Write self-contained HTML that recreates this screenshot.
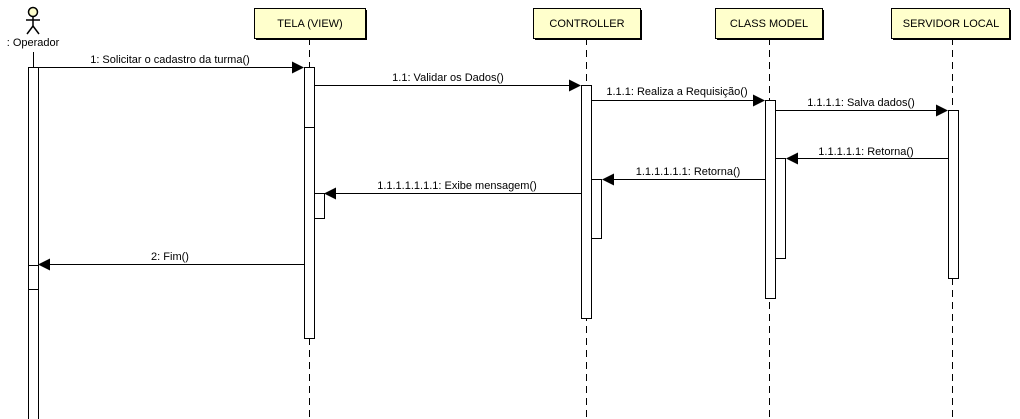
<!DOCTYPE html>
<html><head><style>body{margin:0;background:#fff}svg{display:block}text{font-family:"Liberation Sans",sans-serif;font-size:11px;fill:#000}</style></head><body>
<svg width="1020" height="419" viewBox="0 0 1020 419" xmlns="http://www.w3.org/2000/svg">
<g stroke="#000" stroke-width="1" fill="none" stroke-dasharray="7,5">
<line x1="309.5" y1="38" x2="309.5" y2="419"/>
<line x1="586.5" y1="38" x2="586.5" y2="419"/>
<line x1="769.5" y1="38" x2="769.5" y2="419"/>
<line x1="952.5" y1="38" x2="952.5" y2="419"/>
</g>
<line x1="33.5" y1="52" x2="33.5" y2="67" stroke="#000"/>
<!-- actor -->
<g stroke="#000" stroke-width="1.5" fill="none">
<circle cx="33" cy="12" r="4.5" fill="#ffffcc"/>
<line x1="33" y1="16.5" x2="33" y2="27"/>
<line x1="26" y1="20" x2="40" y2="20"/>
<line x1="33" y1="26" x2="27" y2="34"/>
<line x1="33" y1="26" x2="39" y2="34"/>
</g>
<text x="33" y="46" text-anchor="middle">: Operador</text>
<!-- heads -->
<g stroke="#000" fill="#ffffcc" stroke-width="1">
<rect x="254.5" y="8.5" width="111" height="30"/>
<rect x="533.5" y="8.5" width="107" height="30"/>
<rect x="715.5" y="8.5" width="107" height="30"/>
<rect x="891.5" y="8.5" width="118" height="30"/>
</g>
<g fill="#000" stroke="none">
<rect x="256" y="38" width="111" height="2"/><rect x="365" y="10" width="2" height="30"/>
<rect x="535" y="38" width="107" height="2"/><rect x="640" y="10" width="2" height="30"/>
<rect x="717" y="38" width="107" height="2"/><rect x="822" y="10" width="2" height="30"/>
<rect x="893" y="38" width="118" height="2"/><rect x="1009" y="10" width="2" height="30"/>
</g>
<text x="310" y="27" text-anchor="middle">TELA (VIEW)</text>
<text x="587" y="27" text-anchor="middle">CONTROLLER</text>
<text x="769" y="27" text-anchor="middle">CLASS MODEL</text>
<text x="951" y="27" text-anchor="middle">SERVIDOR LOCAL</text>
<!-- activations -->
<g stroke="#000" fill="#fff" stroke-width="1">
<rect x="28.5" y="67.5" width="10" height="360"/>
<line x1="28" y1="265.5" x2="38" y2="265.5"/><line x1="28" y1="289.5" x2="38" y2="289.5"/>
<rect x="304.5" y="67.5" width="10" height="271"/>
<line x1="314" y1="127.5" x2="304" y2="127.5"/>
<rect x="314.5" y="193.5" width="10" height="25"/>
<rect x="581.5" y="85.5" width="10" height="233"/>
<rect x="591.5" y="179.5" width="10" height="59"/>
<rect x="765.5" y="100.5" width="10" height="198"/>
<rect x="775.5" y="158.5" width="10" height="100"/>
<rect x="948.5" y="110.5" width="10" height="168"/>
</g>
<!-- messages -->
<g stroke="#000" stroke-width="1">
<line x1="38" y1="67.5" x2="294" y2="67.5"/>
<line x1="314" y1="85.5" x2="571" y2="85.5"/>
<line x1="591" y1="100.5" x2="755" y2="100.5"/>
<line x1="775" y1="110.5" x2="938" y2="110.5"/>
<line x1="948" y1="158.5" x2="796" y2="158.5"/>
<line x1="765" y1="179.5" x2="612" y2="179.5"/>
<line x1="581" y1="193.5" x2="334" y2="193.5"/>
<line x1="304" y1="264.5" x2="48" y2="264.5"/>
</g>
<g fill="#000">
<polygon points="304,67.5 292,61.5 292,73.5"/>
<polygon points="581,85.5 569,79.5 569,91.5"/>
<polygon points="765,100.5 753,94.5 753,106.5"/>
<polygon points="948,110.5 936,104.5 936,116.5"/>
<polygon points="786,158.5 798,152.5 798,164.5"/>
<polygon points="602,179.5 614,173.5 614,185.5"/>
<polygon points="324,193.5 336,187.5 336,199.5"/>
<polygon points="38,264.5 50,258.5 50,270.5"/>
</g>
<text x="170" y="63" text-anchor="middle">1: Solicitar o cadastro da turma()</text>
<text x="448" y="81" text-anchor="middle">1.1: Validar os Dados()</text>
<text x="677" y="95" text-anchor="middle">1.1.1: Realiza a Requisição()</text>
<text x="861" y="106" text-anchor="middle">1.1.1.1: Salva dados()</text>
<text x="866" y="155" text-anchor="middle">1.1.1.1.1: Retorna()</text>
<text x="688" y="175" text-anchor="middle">1.1.1.1.1.1: Retorna()</text>
<text x="457" y="189" text-anchor="middle">1.1.1.1.1.1.1: Exibe mensagem()</text>
<text x="170" y="260" text-anchor="middle">2: Fim()</text>
</svg>
</body></html>
